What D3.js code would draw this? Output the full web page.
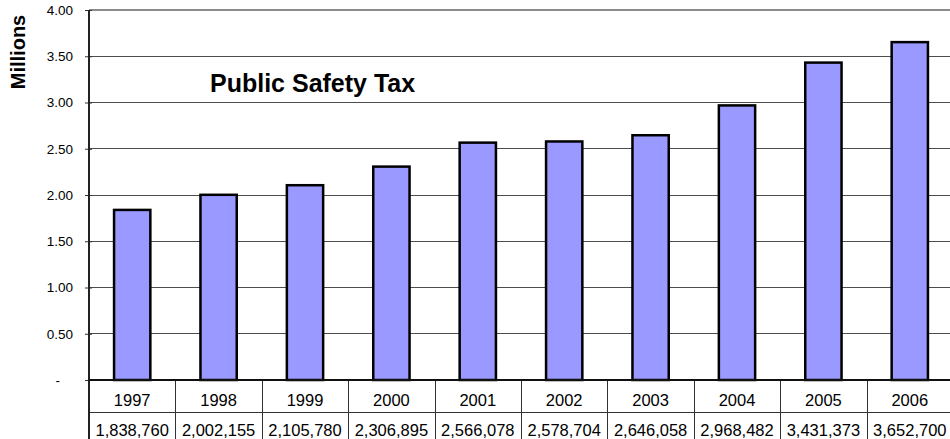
<!DOCTYPE html>
<html>
<head>
<meta charset="utf-8">
<script src="https://cdn.jsdelivr.net/npm/d3@7"></script>
<style>
  html, body { margin: 0; padding: 0; background: #fff; }
  svg { display: block; font-family: Arial, "Liberation Sans", sans-serif; }
</style>
</head>
<body>
<svg id="chart" width="950" height="439"></svg>
<script>
// Annual Public Safety Tax collections
const years = ["1997", "1998", "1999", "2000", "2001", "2002", "2003", "2004", "2005", "2006"];
const collections = [1838760, 2002155, 2105780, 2306895, 2566078, 2578704, 2646058, 2968482, 3431373, 3652700];
const yTicks = [0, 0.5, 1, 1.5, 2, 2.5, 3, 3.5, 4];
const yTickLabels = ["-", "0.50", "1.00", "1.50", "2.00", "2.50", "3.00", "3.50", "4.00"];

const svg = d3.select("#chart");
const W = 950, H = 439;
const plotLeft = 89, plotRight = 953, plotTop = 10, zeroY = 380, rowSplit = 412;

const x = d3.scaleBand().domain(years).range([plotLeft, plotRight]).padding(0);
const y = d3.scaleLinear().domain([0, 4]).range([zeroY, plotTop]);
const barW = x.bandwidth() * 0.42;
const fmt = d3.format(",");

// horizontal gridlines
svg.append("g").selectAll("line")
  .data(yTicks.filter(t => t > 0 && t < 4))
  .join("line")
  .attr("x1", plotLeft).attr("x2", W)
  .attr("y1", d => y(d)).attr("y2", d => y(d))
  .attr("stroke", "#4d4d4d").attr("stroke-width", 1)
  .attr("shape-rendering", "crispEdges");

// plot area top border
svg.append("line")
  .attr("x1", plotLeft).attr("x2", W)
  .attr("y1", y(4)).attr("y2", y(4))
  .attr("stroke", "#8c8c8c").attr("stroke-width", 2);

// bars
svg.append("g").selectAll("rect")
  .data(years.map((yr, i) => ({ yr, v: collections[i] / 1e6 })))
  .join("rect")
  .attr("x", d => x(d.yr) + (x.bandwidth() - barW) / 2)
  .attr("width", barW)
  .attr("y", d => y(d.v))
  .attr("height", d => y(0) - y(d.v))
  .attr("fill", "#9999ff")
  .attr("stroke", "#000")
  .attr("stroke-width", 2.5);

// y axis
const yAxis = d3.axisLeft(y)
  .tickValues(yTicks)
  .tickSize(4)
  .tickPadding(12)
  .tickFormat((d, i) => yTickLabels[i]);
const gy = svg.append("g").attr("transform", `translate(${plotLeft},0)`).call(yAxis);
gy.select(".domain").remove();
gy.selectAll(".tick line").attr("stroke", "#333").attr("x2", 3).attr("x1", -4);
gy.selectAll(".tick text")
  .attr("font-size", 13.5)
  .attr("fill", "#000")
  .attr("font-family", "Arial, 'Liberation Sans', sans-serif")
  .attr("dx", d => d === 0 ? -13 : 0);

// data table below the axis
const table = svg.append("g");
table.append("line")
  .attr("x1", plotLeft).attr("x2", W)
  .attr("y1", rowSplit).attr("y2", rowSplit)
  .attr("stroke", "#333").attr("stroke-width", 1)
  .attr("shape-rendering", "crispEdges");
table.selectAll("line.sep")
  .data(years.slice(1))
  .join("line")
  .attr("class", "sep")
  .attr("x1", d => Math.round(x(d)) + 0.5).attr("x2", d => Math.round(x(d)) + 0.5)
  .attr("y1", zeroY).attr("y2", H)
  .attr("stroke", "#333").attr("stroke-width", 1);
table.selectAll("text.yr")
  .data(years)
  .join("text")
  .attr("class", "yr")
  .attr("x", d => x(d) + x.bandwidth() / 2)
  .attr("y", 406)
  .attr("text-anchor", "middle")
  .attr("font-size", 16.5)
  .text(d => d);
table.selectAll("text.val")
  .data(years.map((yr, i) => ({ yr, v: collections[i] })))
  .join("text")
  .attr("class", "val")
  .attr("x", d => x(d.yr) + x.bandwidth() / 2)
  .attr("y", 436)
  .attr("text-anchor", "middle")
  .attr("font-size", 16.5)
  .text(d => fmt(d.v));

// axis line and baseline
svg.append("line")
  .attr("x1", plotLeft).attr("x2", plotLeft)
  .attr("y1", plotTop).attr("y2", H)
  .attr("stroke", "#222").attr("stroke-width", 2);
svg.append("line")
  .attr("x1", plotLeft).attr("x2", W)
  .attr("y1", zeroY).attr("y2", zeroY)
  .attr("stroke", "#111").attr("stroke-width", 2);

// axis title
svg.append("text")
  .attr("transform", "translate(25,52) rotate(-90)")
  .attr("text-anchor", "middle")
  .attr("font-size", 20)
  .attr("font-weight", "bold")
  .text("Millions");

// chart title
svg.append("text")
  .attr("x", 210).attr("y", 92)
  .attr("font-size", 25)
  .attr("font-weight", "bold")
  .text("Public Safety Tax");
</script>
</body>
</html>
